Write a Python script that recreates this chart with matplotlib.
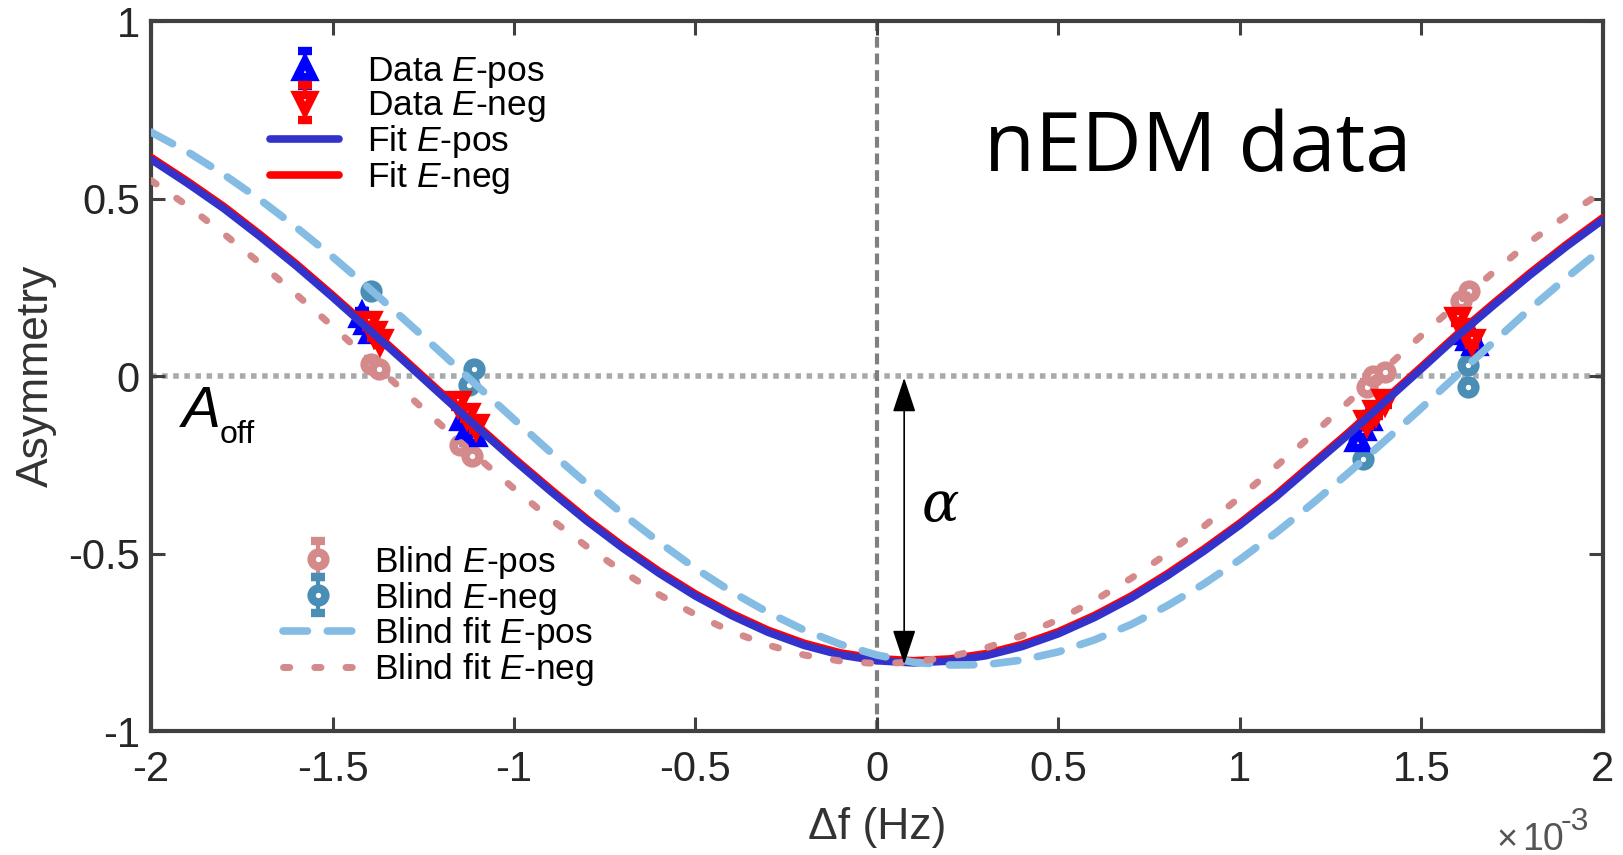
import numpy as np
import matplotlib.pyplot as plt

plt.rcParams['font.family'] = ['Liberation Sans', 'DejaVu Sans']
plt.rcParams['mathtext.fontset'] = 'custom'
plt.rcParams['mathtext.rm'] = 'Liberation Sans'
plt.rcParams['mathtext.it'] = 'Liberation Sans:italic'
plt.rcParams['axes.unicode_minus'] = False

# frequency offset in units of 1e-3 Hz
df_grid = [-2.0, -1.9, -1.8, -1.7, -1.6, -1.5, -1.4, -1.3, -1.2, -1.1, -1.0,
           -0.9, -0.8, -0.7, -0.6, -0.5, -0.4, -0.3, -0.2, -0.1, 0.0,
           0.1, 0.2, 0.3, 0.4, 0.5, 0.6, 0.7, 0.8, 0.9, 1.0,
           1.1, 1.2, 1.3, 1.4, 1.5, 1.6, 1.7, 1.8, 1.9, 2.0]

# fit curves
fit_pos = [0.610, 0.543, 0.472, 0.393, 0.310, 0.222, 0.131, 0.039, -0.054, -0.146, -0.237,
           -0.324, -0.408, -0.485, -0.556, -0.620, -0.675, -0.722, -0.759, -0.786, -0.802,
           -0.808, -0.803, -0.788, -0.762, -0.726, -0.680, -0.626, -0.563, -0.494, -0.420,
           -0.340, -0.252, -0.164, -0.072, 0.020, 0.113, 0.200, 0.285, 0.365, 0.440]
fit_neg = [0.616, 0.549, 0.478, 0.399, 0.316, 0.228, 0.137, 0.045, -0.048, -0.140, -0.231,
           -0.318, -0.402, -0.479, -0.550, -0.614, -0.669, -0.716, -0.753, -0.780, -0.796,
           -0.802, -0.797, -0.782, -0.756, -0.720, -0.674, -0.620, -0.557, -0.488, -0.414,
           -0.334, -0.246, -0.158, -0.066, 0.026, 0.119, 0.206, 0.291, 0.371, 0.446]
blind_fit_pos = [0.687, 0.632, 0.568, 0.497, 0.419, 0.336, 0.248, 0.157, 0.065, -0.029, -0.122,
                 -0.214, -0.303, -0.389, -0.468, -0.542, -0.608, -0.666, -0.716, -0.756, -0.786,
                 -0.806, -0.814, -0.813, -0.800, -0.777, -0.743, -0.700, -0.647, -0.586, -0.517,
                 -0.441, -0.359, -0.272, -0.182, -0.090, 0.004, 0.097, 0.190, 0.277, 0.360]
blind_fit_neg = [0.551, 0.480, 0.401, 0.318, 0.230, 0.140, 0.047, -0.046, -0.139, -0.229, -0.317,
                 -0.402, -0.480, -0.551, -0.616, -0.672, -0.720, -0.758, -0.786, -0.803, -0.810,
                 -0.806, -0.791, -0.766, -0.731, -0.686, -0.632, -0.570, -0.500, -0.424, -0.341,
                 -0.254, -0.165, -0.072, 0.021, 0.114, 0.205, 0.294, 0.379, 0.452, 0.520]

# measured points
data_pos_x = [-1.418, -1.405, -1.392, -1.140, -1.125, -1.110, 1.325, 1.340, 1.355, 1.615, 1.632, 1.648]
data_pos_y = [0.170, 0.150, 0.125, -0.120, -0.145, -0.165, -0.180, -0.150, -0.120, 0.120, 0.105, 0.090]
data_neg_x = [-1.400, -1.385, -1.370, -1.155, -1.130, -1.105, 1.350, 1.375, 1.400, 1.600, 1.620, 1.640]
data_neg_y = [0.150, 0.120, 0.100, -0.075, -0.110, -0.140, -0.130, -0.100, -0.070, 0.160, 0.130, 0.100]

blind_pos_x = [-1.395, -1.372, -1.150, -1.115, 1.350, 1.368, 1.400, 1.610, 1.630]
blind_pos_y = [0.035, 0.020, -0.195, -0.225, -0.030, 0.000, 0.010, 0.210, 0.240]
blind_neg_x = [-1.395, -1.110, -1.125, 1.340, 1.627, 1.627]
blind_neg_y = [0.240, 0.020, -0.025, -0.235, 0.030, -0.030]

err = 0.012

c_pink = '#d4898a'
c_steel = '#4a8db5'
c_light = '#85bce3'
c_fitblue = '#3333cc'

fig = plt.figure(figsize=(16.24, 8.55), dpi=100)
ax = fig.add_axes([0.093, 0.145, 0.894, 0.8304])

# reference lines
ax.axhline(0, color='#a8abae', lw=4, dashes=(1, 1), zorder=1.5)
ax.axvline(0, color='#808080', lw=3, dashes=(2.6, 1.4), zorder=1.5)

bp = ax.errorbar(blind_pos_x, blind_pos_y, yerr=err, fmt='o', color=c_pink, ms=10, mfc='white',
                 mew=6, elinewidth=3, capsize=5, capthick=3, zorder=2, label='Blind $E$-pos')
bn = ax.errorbar(blind_neg_x, blind_neg_y, yerr=err, fmt='o', color=c_steel, ms=10, mfc='white',
                 mew=6, elinewidth=3, capsize=5, capthick=3, zorder=2, label='Blind $E$-neg')

dp = ax.errorbar(data_pos_x, data_pos_y, yerr=err, fmt='^', color='#0000ff', ms=11, mfc='white',
                 mew=6, elinewidth=3, capsize=5, capthick=3, zorder=3, label='Data $E$-pos')
dn = ax.errorbar(data_neg_x, data_neg_y, yerr=err, fmt='v', color='#ff0000', ms=11, mfc='white',
                 mew=6, elinewidth=3, capsize=5, capthick=3, zorder=3.1, label='Data $E$-neg')

ln_neg, = ax.plot(df_grid, fit_neg, color='#ff0000', lw=5.5, solid_capstyle='round', zorder=4,
                  label='Fit $E$-neg')
ln_pos, = ax.plot(df_grid, fit_pos, color=c_fitblue, lw=5.5, solid_capstyle='round', zorder=4.1,
                  label='Fit $E$-pos')

lb_pos, = ax.plot(df_grid, blind_fit_pos, color=c_light, lw=5.5, dashes=(3.2, 2.6),
                  dash_capstyle='round', zorder=5, label='Blind fit $E$-pos')
lb_neg, = ax.plot(df_grid, blind_fit_neg, color=c_pink, lw=5, dashes=(0.9, 3.6),
                  dash_capstyle='round', zorder=5, label='Blind fit $E$-neg')

ax.set_xlim(-2, 2)
ax.set_ylim(-1, 1)
ax.set_xticks([-2, -1.5, -1, -0.5, 0, 0.5, 1, 1.5, 2])
ax.set_xticklabels(['-2', '-1.5', '-1', '-0.5', '0', '0.5', '1', '1.5', '2'])
ax.set_yticks([-1, -0.5, 0, 0.5, 1])
ax.set_yticklabels(['-1', '-0.5', '0', '0.5', '1'])
ax.tick_params(direction='in', length=10, width=2.2, top=True, right=True, labelsize=30,
               color='#404040', labelcolor='#262626')
ax.tick_params(axis='x', pad=14)
ax.tick_params(axis='y', pad=8)
for s in ax.spines.values():
    s.set_linewidth(3)
    s.set_color('#404040')

ax.set_xlabel('Δf (Hz)', fontsize=32, color='#333333', labelpad=12)
ax.set_ylabel('Asymmetry', fontsize=32, color='#333333', labelpad=8)

leg1 = ax.legend(handles=[dp, dn, ln_pos, ln_neg], loc='upper left', bbox_to_anchor=(0.082, 0.952),
                 frameon=False, fontsize=25.5, handlelength=1.95, handletextpad=0.8,
                 labelspacing=-0.03, borderpad=0, borderaxespad=0)
ax.add_artist(leg1)
ax.legend(handles=[bp, bn, lb_pos, lb_neg], loc='upper left', bbox_to_anchor=(0.091, 0.264),
          frameon=False, fontsize=25.5, handlelength=1.95, handletextpad=0.62,
          labelspacing=-0.03, borderpad=0, borderaxespad=0)

ax.text(0.574, 0.789, 'nEDM data', transform=ax.transAxes, fontsize=60, family='Open Sans',
        va='baseline', ha='left')

# A_off label
ax.text(-1.915, -0.144, 'A', fontsize=42, style='italic', va='baseline', ha='left')
ax.text(-1.81, -0.189, 'off', fontsize=23, va='baseline', ha='left')

# alpha arrow
ax.annotate('', xy=(0.075, -0.005), xytext=(0.075, -0.812),
            arrowprops=dict(arrowstyle='<|-|>,head_length=0.9,head_width=0.3', color='black',
                            lw=1.2, mutation_scale=24, shrinkA=0, shrinkB=0), zorder=6)
ax.text(0.175, -0.365, 'α', fontsize=40, family='DejaVu Serif', style='italic',
        va='center', ha='center')

fig.text(1497 / 1624, 1 - 850 / 855, '×', fontsize=26, color='#555555', va='baseline', ha='left')
fig.text(1522 / 1624, 1 - 850 / 855, '10', fontsize=27, color='#555555', va='baseline', ha='left')
fig.text(1561 / 1624, 1 - 830 / 855, '-3', fontsize=23, color='#555555', va='baseline', ha='left')

fig.savefig('out.png', dpi=100)
